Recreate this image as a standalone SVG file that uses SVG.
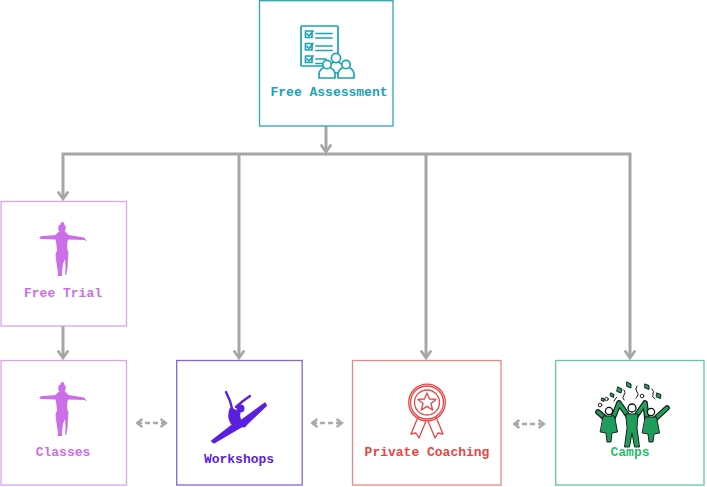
<svg xmlns="http://www.w3.org/2000/svg" width="707" height="487" viewBox="0 0 707 487">
<defs>
<style>
.box{fill:#fff;stroke-width:1.3}
.lbl{font-family:"Liberation Mono","Courier New",monospace;font-weight:bold;font-size:13px;text-anchor:middle}
.conn{fill:none;stroke:#a6a6a6;stroke-width:3}
.dash{fill:none;stroke:#a8a8a8;stroke-width:2.5;stroke-dasharray:5 3}
.teal{fill:none;stroke:#1aa3b3;stroke-width:1.7;stroke-linecap:round;stroke-linejoin:round}
.red{fill:none;stroke:#e84545;stroke-width:1.3;stroke-linejoin:round}
.cf{fill:#1e9e5a;stroke:#111;stroke-width:0.9;stroke-linejoin:round}
</style>
<marker id="ah" viewBox="0 0 10 12" refX="8.5" refY="6" markerWidth="10" markerHeight="12" orient="auto" markerUnits="userSpaceOnUse">
<path d="M1,0.8 L8.5,6 L1,11.2" fill="none" stroke="#a6a6a6" stroke-width="2.6"/>
</marker>
<marker id="ahs" viewBox="0 0 8 10" refX="6.5" refY="5" markerWidth="8" markerHeight="10" orient="auto-start-reverse" markerUnits="userSpaceOnUse">
<path d="M1,1 L6.5,5 L1,9" fill="none" stroke="#a8a8a8" stroke-width="2.2"/>
</marker>
</defs>
<rect width="707" height="487" fill="#fff"/>

<g id="connectors">
<path class="conn" d="M326,126 V152" marker-end="url(#ah)"/>
<path class="conn" d="M327,154 H63 V199" marker-end="url(#ah)"/>
<path class="conn" d="M325,154 H630 V358" marker-end="url(#ah)"/>
<path class="conn" d="M239,154 V358" marker-end="url(#ah)"/>
<path class="conn" d="M426,154 V358" marker-end="url(#ah)"/>
<path class="conn" d="M63,326 V358" marker-end="url(#ah)"/>
<path class="dash" d="M137,423 H166" marker-start="url(#ahs)" marker-end="url(#ahs)"/>
<path class="dash" d="M312,423 H342" marker-start="url(#ahs)" marker-end="url(#ahs)"/>
<path class="dash" d="M514,424 H544" marker-start="url(#ahs)" marker-end="url(#ahs)"/>
</g>

<g id="free-assessment">
<rect class="box" x="259.5" y="0.7" width="133.5" height="125.3" stroke="#2aa8b2"/>
<rect class="teal" x="301" y="26" width="37" height="40" rx="1"/>
<rect class="teal" x="305.5" y="31" width="6.5" height="6.5"/>
<rect class="teal" x="305.5" y="43.5" width="6.5" height="6.5"/>
<rect class="teal" x="305.5" y="56" width="6.5" height="6.5"/>
<path class="teal" d="M307,34 l2,2 l4,-5 M307,46.5 l2,2 l4,-5 M307,59 l2,2 l4,-5"/>
<path class="teal" d="M316,33.5 H332 M316,38 H332 M316,46 H332 M316,50.5 H332 M316,59 H326 M316,63.5 H322"/>
<g fill="#fff" stroke="#1aa3b3" stroke-width="1.7" stroke-linejoin="round">
<path d="M328,73 v-4 a8,7 0 0 1 16,0 v4 z"/>
<circle cx="336" cy="58" r="4.6"/>
<path d="M319,78 v-4 a8,7 0 0 1 16,0 v4 z"/>
<circle cx="327" cy="64.5" r="4.2"/>
<path d="M338,78 v-4 a8,7 0 0 1 16,0 v4 z"/>
<circle cx="346" cy="64.5" r="4.2"/>
</g>
<text class="lbl" x="329" y="96" fill="#1aa3b3">Free Assessment</text>
</g>

<g id="free-trial">
<rect class="box" x="1" y="201.5" width="125.5" height="124.5" stroke="#dba2ee"/>
<g transform="translate(62,228)" fill="#cc6ee8">
<circle cx="0" cy="0" r="3.8"/>
<circle cx="0.5" cy="-4" r="1.9"/>
<path d="M-2.5,3 L-6.5,7 L-21,8.3 L-23,10 L-21,11 L-6.5,11.5 L-5.5,17 L-5,22 L-6.5,27 L-5.5,35 L-4,45 L-4.5,48 L0,48 L0,44 L1,36 L3,31 L3.5,40 L3,46 L4,47.5 L5.5,40 L6,30 L6.5,25 L5,20 L5.5,13 L6.5,11.5 L22,12 L25,13 L22,9.5 L6.5,7 L2.5,3 Z"/>
</g>
<text class="lbl" x="63" y="297" fill="#cc6ee8">Free Trial</text>
</g>

<g id="classes">
<rect class="box" x="1" y="360.5" width="125.5" height="124.5" stroke="#dba2ee"/>
<g transform="translate(62,388)" fill="#cc6ee8">
<circle cx="0" cy="0" r="3.8"/>
<circle cx="0.5" cy="-4" r="1.9"/>
<path d="M-2.5,3 L-6.5,7 L-21,8.3 L-23,10 L-21,11 L-6.5,11.5 L-5.5,17 L-5,22 L-6.5,27 L-5.5,35 L-4,45 L-4.5,48 L0,48 L0,44 L1,36 L3,31 L3.5,40 L3,46 L4,47.5 L5.5,40 L6,30 L6.5,25 L5,20 L5.5,13 L6.5,11.5 L22,12 L25,13 L22,9.5 L6.5,7 L2.5,3 Z"/>
</g>
<text class="lbl" x="63" y="456" fill="#cc6ee8">Classes</text>
</g>

<g id="workshops">
<rect class="box" x="176.7" y="360.5" width="125.5" height="124.5" stroke="#8a62d8"/>
<g fill="#5b1fe0" stroke="#5b1fe0" stroke-linecap="round" stroke-linejoin="round">
<circle cx="240.5" cy="408.5" r="4" stroke="none"/>
<path d="M231,409 Q227,420 236,427 L245,425 Q237,420 239,413 Z" stroke-width="3"/>
<path d="M233,412 L230,401 L226,392" fill="none" stroke-width="2.4"/>
<path d="M236,407 L243,401 L250,396" fill="none" stroke-width="2.4"/>
<path d="M239,422 L265,403 L266.5,405.5 L244,427 Z" stroke-width="1.2"/>
<path d="M236,422 L243,426 L214,443 L211.5,441 Z" stroke-width="1.2"/>
</g>
<text class="lbl" x="239" y="463" fill="#5b1fe0">Workshops</text>
</g>

<g id="private-coaching">
<rect class="box" x="352.5" y="360.5" width="148.5" height="124.5" stroke="#ee8585"/>
<path class="red" d="M418,417 L411,434 L416,433 L419,438 L426,421 M436,417 L443,434 L438,433 L435,438 L428,421"/>
<circle class="red" cx="427" cy="402.5" r="18.3" fill="#fff"/>
<circle class="red" cx="427" cy="402.5" r="16.5"/>
<circle class="red" cx="427" cy="402.5" r="12.5"/>
<path class="red" d="M427,393 L429.5,399 L436,399.4 L431,403.5 L432.6,410 L427,406.4 L421.4,410 L423,403.5 L418,399.4 L424.5,399 Z"/>
<text class="lbl" x="427" y="456" fill="#e84545">Private Coaching</text>
</g>

<g id="camps">
<rect class="box" x="555.7" y="360.5" width="148.3" height="124.5" stroke="#5ecb98"/>
<g stroke-linecap="round" stroke-linejoin="round">
<path d="M598,412 L605,418 M613,418 L619,403 M628,416 L619,403 M636,416 L645,403 M647,419 L645,403 M655,419 L667,408" fill="none" stroke="#111" stroke-width="5.6"/>
<path d="M598,412 L605,418 M613,418 L619,403 M628,416 L619,403 M636,416 L645,403 M647,419 L645,403 M655,419 L667,408" fill="none" stroke="#1e9e5a" stroke-width="3.4"/>
<path class="cf" d="M603.5,416 L614.5,416 L617.5,432 L612,433 L611,442 L607,442 L606,433 L600.5,432 Z"/>
<path class="cf" d="M645.5,417 L656.5,417 L659.5,433 L654,434 L653,442 L649,442 L648,434 L642.5,433 Z"/>
<path class="cf" d="M626,414 L638,414 L637,428 L639.5,447 L634.5,447 L632,433 L629.5,447 L624.5,447 L627,428 Z"/>
<circle cx="609" cy="411" r="3.6" fill="#fff" stroke="#111" stroke-width="1.3"/>
<circle cx="632" cy="408" r="4" fill="#fff" stroke="#111" stroke-width="1.3"/>
<circle cx="651" cy="412" r="3.6" fill="#fff" stroke="#111" stroke-width="1.3"/>
<circle cx="600" cy="405" r="1.8" fill="#fff" stroke="#111" stroke-width="0.9"/>
<circle cx="606.5" cy="399" r="1.7" fill="#fff" stroke="#111" stroke-width="0.9"/>
<circle cx="642" cy="396" r="1.8" fill="#fff" stroke="#111" stroke-width="0.9"/>
<path class="cf" d="M618,387 l4,2 l-1,4 l-4,-1.5 z"/>
<path class="cf" d="M627,382 l4,2 l0,4 l-4,-1.5 z"/>
<path class="cf" d="M645,384 l4,1.5 l0,4 l-4,-1.5 z"/>
<path class="cf" d="M657,393 l4,1.5 l-0.5,4 l-4,-1.5 z"/>
<path class="cf" d="M611,393 l3,1.5 l-0.5,3 l-3,-1.5 z"/>
<path class="cf" d="M602,398 l2.5,1 l-0.5,2.5 l-2.5,-1 z"/>
<path d="M624,390 q2.5,2.5 0,5 q-2.5,2.5 0,5 M637,386 q-2.5,3 0,6 q2.5,2.5 -1,6 M652,389 q2.5,2.5 1,5 q-1.5,2.5 2,5 M614,401 l2.5,-3.5" fill="none" stroke="#111" stroke-width="1"/>
</g>
<text class="lbl" x="630" y="456" fill="#1fbf6b">Camps</text>
</g>
</svg>
